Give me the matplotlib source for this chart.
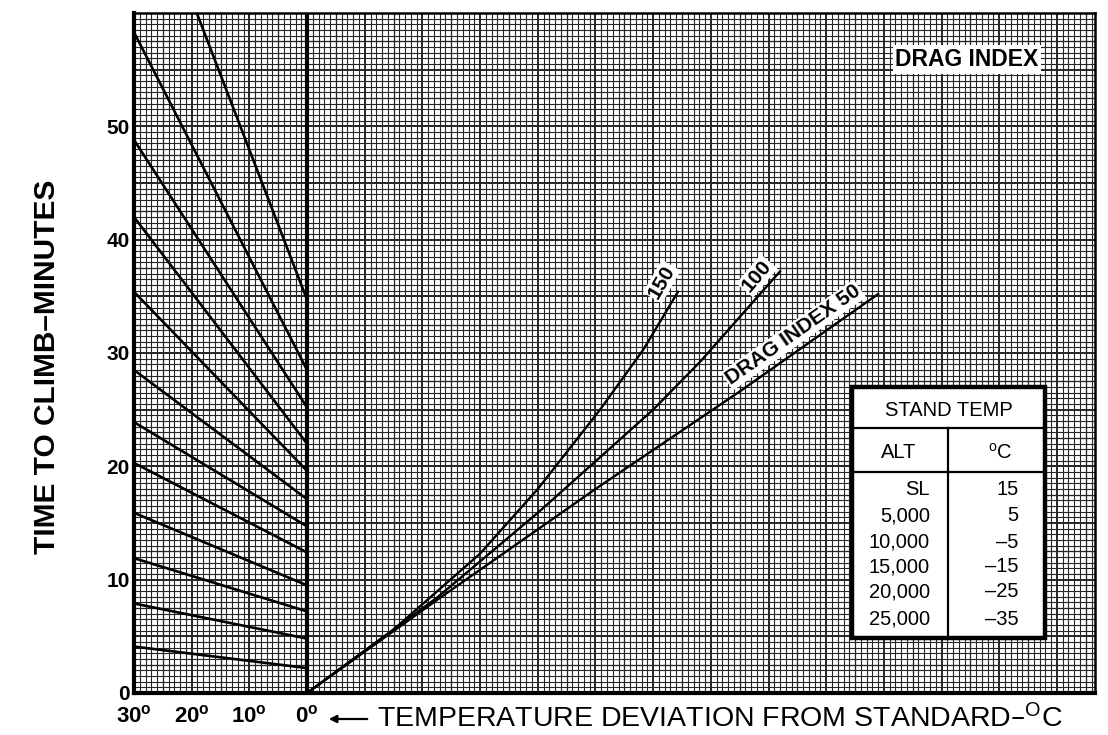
import matplotlib
matplotlib.use("Agg")
import matplotlib.pyplot as plt
import numpy as np

plt.rcParams['font.family'] = ['Liberation Sans', 'DejaVu Sans']
plt.rcParams['mathtext.default'] = 'regular'

# ---------------- data ----------------
# left panel guide lines: value at 30 deg deviation and at 0 deg deviation
guide_start_30 = [4.1, 7.9, 11.9, 15.9, 20.3, 23.9, 28.5, 35.4, 42.0, 48.8, 58.3, 74.4]
guide_end_0 = [2.2, 4.8, 7.2, 9.5, 12.4, 14.7, 17.1, 19.6, 22.0, 25.2, 28.5, 34.7]

# right panel drag index curves
di50_x = [0, 22.5, 50, 75, 99]
di50_y = [0, 8.2, 18.0, 26.6, 35.2]
di100_x = [0, 22.5, 40, 50.8, 60, 68.1, 82]
di100_y = [0, 8.4, 15.9, 20.8, 25.0, 29.2, 37.2]
di150_x = [0, 15, 30, 40, 50.8, 58.3, 64.3]
di150_y = [0, 5.6, 12.3, 18.0, 25.0, 30.3, 35.4]

x_tick_vals = [-30, -20, -10, 0]
x_tick_labels = ['30$^{o}$', '20$^{o}$', '10$^{o}$', '0$^{o}$']
y_tick_vals = [0, 10, 20, 30, 40, 50]
y_tick_labels = ['0', '10', '20', '30', '40', '50']

table_alt = ['SL', '5,000', '10,000', '15,000', '20,000', '25,000']
table_temp = ['15', '5', '–5', '–15', '–25', '–35']

XMIN, XMAX, YMIN, YMAX = -30, 136.6, 0, 60

# ---------------- figure ----------------
W, H = 1108, 735
fig = plt.figure(figsize=(W / 100, H / 100), dpi=100)
fig.patch.set_facecolor('white')
ax = fig.add_axes([134 / W, 1 - 693 / H, (1095 - 134) / W, (693 - 13) / H])
ax.set_xlim(XMIN, XMAX)
ax.set_ylim(YMIN, YMAX)

# graph-paper grid
gcol = '#262626'
xs = np.arange(-30, 137, 1)
lw_x = [1.4 if (v % 10 == 0) else (0.95 if v % 5 == 0 else 0.8) for v in xs]
ax.vlines(xs, YMIN, YMAX, colors=gcol, linewidths=lw_x, zorder=1)
ys = np.arange(0, 60.01, 0.5)
lw_y = [1.4 if (abs(v % 5) < 1e-6) else (0.95 if abs(v % 2.5) < 1e-6 else 0.8) for v in ys]
ax.hlines(ys, XMIN, XMAX, colors=gcol, linewidths=lw_y, zorder=1)

# thick 0 deg line
ax.axvline(0, color='black', lw=3.0, zorder=3)

# left panel guide lines
for s, e in zip(guide_start_30, guide_end_0):
    ax.plot([-30, 0], [s, e], color='black', lw=1.9, zorder=4, solid_capstyle='butt')

# drag index curves
for cx, cy in [(di50_x, di50_y), (di100_x, di100_y), (di150_x, di150_y)]:
    ax.plot(cx, cy, color='black', lw=1.7, zorder=4)

box = dict(facecolor='white', edgecolor='none', pad=1.0)
ax.text(61.5, 36.3, '150', rotation=60, ha='center', va='center', fontsize=15,
        fontweight='bold', bbox=box, zorder=6)
ax.text(78.0, 36.8, '100', rotation=50, ha='center', va='center', fontsize=15,
        fontweight='bold', bbox=box, zorder=6)
ax.text(84.3, 31.6, 'DRAG INDEX 50', rotation=35, ha='center', va='center', fontsize=15,
        fontweight='bold', bbox=box, zorder=6, rotation_mode='anchor')
ax.text(114.4, 55.9, 'DRAG INDEX', ha='center', va='center', fontsize=16.5,
        fontweight='bold', bbox=dict(facecolor='white', edgecolor='none', pad=2), zorder=6)

# standard temperature table
tx0, tx1 = 94.5, 128.0
ty0, ty1 = 4.86, 27.0
ax.add_patch(plt.Rectangle((tx0, ty0), tx1 - tx0, ty1 - ty0, facecolor='white',
                           edgecolor='black', lw=3.2, zorder=7))
ax.plot([tx0, tx1], [23.4, 23.4], color='black', lw=1.6, zorder=8)
ax.plot([tx0, tx1], [19.5, 19.5], color='black', lw=1.6, zorder=8)
ax.plot([111.2, 111.2], [ty0, 23.4], color='black', lw=1.6, zorder=8)
tfs = 14.5
ax.text(111.2, 25.1, 'STAND TEMP', ha='center', va='center_baseline', fontsize=tfs, zorder=9)
ax.text(102.5, 21.4, 'ALT', ha='center', va='center_baseline', fontsize=tfs, zorder=9)
ax.text(120.2, 21.4, '$^{o}$C', ha='center', va='center_baseline', fontsize=tfs, zorder=9)
row_y = [18.1, 15.8, 13.5, 11.3, 9.1, 6.7]
for yv, a, t in zip(row_y, table_alt, table_temp):
    ax.text(108.0, yv, a, ha='right', va='center_baseline', fontsize=tfs, zorder=9)
    ax.text(123.3, yv, t, ha='right', va='center_baseline', fontsize=tfs, zorder=9)

# axes frame
for side, lw in [('left', 3.0), ('bottom', 3.0), ('top', 1.8), ('right', 1.8)]:
    ax.spines[side].set_linewidth(lw)
    ax.spines[side].set_zorder(10)

ax.set_xticks(x_tick_vals)
ax.set_xticklabels(x_tick_labels, fontsize=16, fontweight='bold')
ax.set_yticks(y_tick_vals)
ax.set_yticklabels(y_tick_labels, fontsize=15, fontweight='bold')
ax.tick_params(axis='y', length=0, pad=3)
ax.tick_params(axis='x', length=0, pad=9)

fig.text(47 / W, 1 - 367 / H, 'TIME TO CLIMB–MINUTES', rotation=90, ha='center',
         va='center', fontsize=21.5, fontweight='bold')

fig.text(377 / W, 1 - 719 / H, 'TEMPERATURE DEVIATION FROM STANDARD–$^{O}$C',
         ha='left', va='center', fontsize=20.5)
fig.add_artist(matplotlib.patches.FancyArrowPatch((370 / W, 1 - 719 / H), (326 / W, 1 - 719 / H),
                                                  transform=fig.transFigure, arrowstyle='-|>',
                                                  mutation_scale=11, lw=1.6, color='black'))

fig.savefig('out.png', dpi=100, facecolor='white')
